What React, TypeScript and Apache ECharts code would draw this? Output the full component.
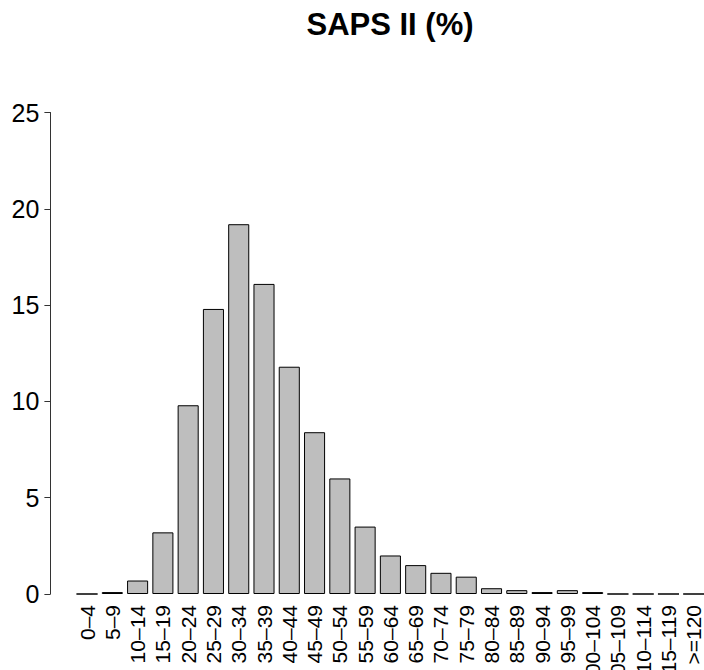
import React, { useEffect, useRef } from "react";
import * as echarts from "echarts";

const categories = [
  "0–4", "5–9", "10–14", "15–19", "20–24", "25–29", "30–34", "35–39",
  "40–44", "45–49", "50–54", "55–59", "60–64", "65–69", "70–74", "75–79",
  "80–84", "85–89", "90–94", "95–99", "100–104", "105–109", "110–114",
  "115–119", ">=120",
];
const percentages = [
  0, 0.1, 0.7, 3.2, 9.8, 14.8, 19.2, 16.1, 11.8, 8.4, 6.0, 3.5, 2.0, 1.5,
  1.1, 0.9, 0.3, 0.2, 0.1, 0.2, 0.1, 0, 0, 0, 0,
];
const yTicks = [0, 5, 10, 15, 20, 25];
const titleText = "SAPS II (%)";

export default function App() {
  const ref = useRef<HTMLDivElement>(null);
  useEffect(() => {
    if (!ref.current) return;
    const chart = echarts.init(ref.current, undefined, { renderer: "svg" });
    const font = "'Liberation Sans', Arial, Helvetica, sans-serif";
    chart.setOption({
      animation: false,
      textStyle: { fontFamily: font },
      graphic: [
        {
          type: "text",
          x: 390,
          y: 24,
          style: {
            text: titleText,
            font: `bold 31px ${font}`,
            fill: "#000",
            align: "center",
            verticalAlign: "middle",
          },
        },
      ],
      grid: {
        left: 74.4,
        top: 112.5,
        width: 632,
        height: 481.5,
        containLabel: false,
        outerBoundsMode: "none",
      },
      xAxis: {
        type: "category",
        data: categories,
        axisLine: { show: false },
        axisTick: { show: false },
        axisLabel: {
          rotate: 90,
          interval: 0,
          fontSize: 21,
          color: "#000",
          margin: 11,
          fontFamily: font,
          hideOverlap: false,
        },
      },
      yAxis: {
        type: "value",
        min: yTicks[0],
        max: yTicks[yTicks.length - 1],
        interval: 5,
        offset: 24,
        splitLine: { show: false },
        axisLine: { show: true, lineStyle: { color: "#333", width: 1 } },
        axisTick: { show: true, length: 6, lineStyle: { color: "#333", width: 1 } },
        axisLabel: { fontSize: 25, color: "#000", margin: 11, fontFamily: font },
      },
      series: [
        {
          type: "bar",
          data: percentages,
          barCategoryGap: "16.67%",
          itemStyle: { color: "#BEBEBE", borderColor: "#000", borderWidth: 1 },
        },
      ],
    });
    return () => chart.dispose();
  }, []);
  return (
    <div
      ref={ref}
      style={{ position: "absolute", left: 0, top: 0, width: 704, height: 670, background: "#fff" }}
    />
  );
}
